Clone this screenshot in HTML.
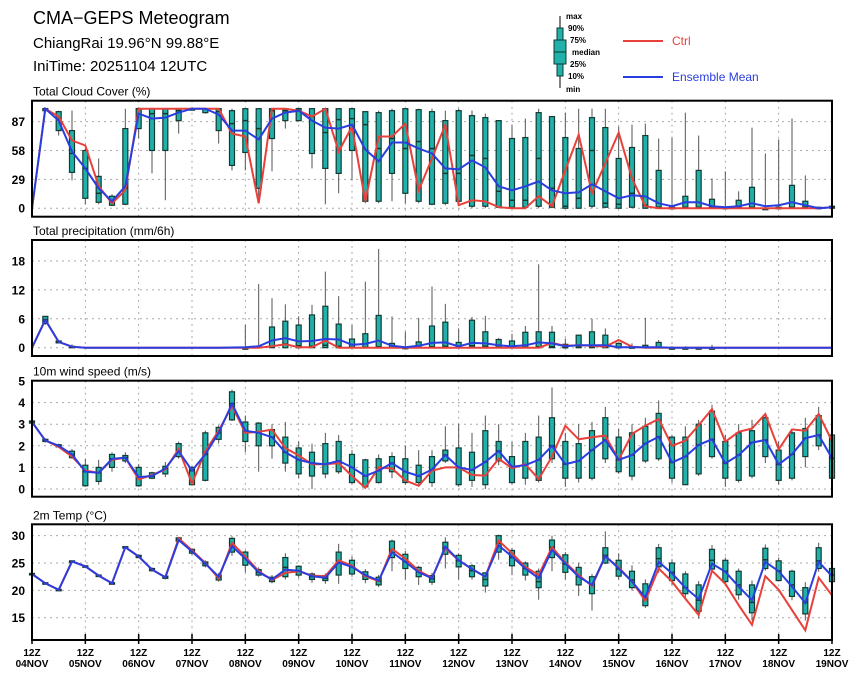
<!DOCTYPE html>
<html><head><meta charset="utf-8">
<style>
html,body{margin:0;padding:0;background:#fff;}
svg{display:block;font-family:"Liberation Sans",sans-serif;}
</style></head>
<body>
<svg id="chart" width="860" height="678" viewBox="0 0 860 678" xmlns="http://www.w3.org/2000/svg">
<text x="33" y="24" font-size="18" fill="#000">CMA−GEPS Meteogram</text>
<text x="33" y="48" font-size="15" fill="#000">ChiangRai 19.96°N 99.88°E</text>
<text x="33" y="71" font-size="15" fill="#000">IniTime: 20251104 12UTC</text>
<g>
  <line x1="560" y1="16" x2="560" y2="88" stroke="#000" stroke-width="1"/>
  <rect x="557" y="28" width="6" height="48" fill="#20b2aa" stroke="#103830"/>
  <rect x="554" y="40" width="12" height="24" fill="#20b2aa" stroke="#103830"/>
  <line x1="554" y1="52" x2="566" y2="52" stroke="#103830"/>
  <text x="566" y="19" font-size="8" font-weight="bold">max</text>
  <text x="568" y="31" font-size="8" font-weight="bold">90%</text>
  <text x="570" y="43" font-size="8" font-weight="bold">75%</text>
  <text x="572" y="55" font-size="8" font-weight="bold">median</text>
  <text x="570" y="67" font-size="8" font-weight="bold">25%</text>
  <text x="568" y="79" font-size="8" font-weight="bold">10%</text>
  <text x="566" y="92" font-size="8" font-weight="bold">min</text>
  <line x1="623" y1="41" x2="663" y2="41" stroke="#e8403a" stroke-width="2"/>
  <text x="672" y="45" font-size="12" fill="#e8403a">Ctrl</text>
  <line x1="623" y1="77" x2="663" y2="77" stroke="#2a3ee0" stroke-width="2"/>
  <text x="672" y="81" font-size="12" fill="#2a3ee0">Ensemble Mean</text>
</g>
<g id="plots"></g>
</svg>
<script>
const times = ["04NOV","05NOV","06NOV","07NOV","08NOV","09NOV","10NOV","11NOV","12NOV","13NOV","14NOV","15NOV","16NOV","17NOV","18NOV","19NOV"];

const cloudMean = [0,100,88,57,40,20,7,22,95,90,91,96,100,100,94,78,78,69,90,96,98,88,81,80,84,59,47,66,66,60,55,40,39,48,41,22,18,22,27,18,15,16,24,17,10,13,12,5,2,6,6,2,1,2,5,2,3,6,3,0,1];
const cloudCtrl = [0,100,92,68,63,22,5,18,100,100,100,100,100,100,100,75,72,5,100,100,98,92,100,57,82,7,72,72,85,18,50,84,3,8,7,1,0,0,12,2,38,74,15,45,76,30,2,0,0,0,0,0,0,0,0,0,0,0,0,0,1];
const cloudMin = [0,98,73,28,4,4,2,3,70,35,8,75,99,95,65,38,38,7,37,80,87,40,4,15,28,5,5,7,5,5,3,3,5,0,0,0,0,0,0,0,0,0,0,0,0,0,0,0,0,0,0,0,0,0,0,0,0,0,0,0,0];
const cloudP10 = [0,98,78,36,10,6,3,4,80,58,58,88,99,96,78,43,56,20,70,88,88,55,40,35,58,7,7,35,15,7,4,5,7,2,2,1,1,1,2,1,0,0,2,1,0,1,0,0,0,0,0,0,0,0,0,0,0,0,0,0,0];
const cloudMed = [0,100,90,55,40,15,7,20,100,95,95,98,100,100,97,85,88,80,98,98,100,92,76,89,90,84,60,70,60,67,60,35,35,53,50,17,8,8,50,20,2,10,58,5,4,15,3,1,0,1,1,1,0,1,1,0,0,1,1,0,1];
const cloudP90 = [0,100,97,78,58,32,12,80,100,100,100,100,100,100,100,98,100,100,100,100,100,100,100,100,100,97,96,98,100,99,97,88,98,93,91,88,70,71,96,92,71,60,91,81,50,61,73,38,1,12,38,9,1,8,21,0,1,23,7,1,2];
const cloudMax = [0,100,98,98,60,50,14,100,100,100,100,100,100,100,100,100,100,100,100,100,100,100,100,100,100,97,98,100,100,100,100,98,100,98,95,88,84,90,100,92,96,100,100,100,82,84,85,70,71,96,73,30,37,17,81,55,69,90,33,1,3];

const precMean = [0,5.8,1.2,0.2,0,0,0,0,0,0,0,0,0,0,0,0.05,0.1,0.3,1.5,2,1.3,1.4,1.8,1.7,0.6,0.8,1.5,0.4,0.1,0.4,1.0,1.1,0.3,1.0,0.9,0.5,0.3,0.5,1.1,0.9,0.3,0.5,0.5,0.5,0.1,0.1,0.1,0.1,0,0,0,0,0,0,0,0,0,0,0,0,0];
const precCtrl = [0,5.8,1.2,0.2,0,0,0,0,0,0,0,0,0,0,0,0,0,0,0.3,0.7,0.1,0.1,1.5,0,0,0,0,0,0,0,0,0,0,0,0,0,0,0,0,1.0,0.4,0.5,0.4,0.2,1.6,0.2,0,0,0,0,0,0,0,0,0,0,0,0,0,0,0];
const precMin = [0,4.8,0.9,0,0,0,0,0,0,0,0,0,0,0,0,0,0,0,0,0,0,0,0,0,0,0,0,0,0,0,0,0,0,0,0,0,0,0,0,0,0,0,0,0,0,0,0,0,0,0,0,0,0,0,0,0,0,0,0,0,0];
const precP10 = [0,5.0,1.0,0,0,0,0,0,0,0,0,0,0,0,0,0,0,0,0,0,0,0,0,0,0,0,0,0,0,0,0,0,0,0,0,0,0,0,0,0,0,0,0,0,0,0,0,0,0,0,0,0,0,0,0,0,0,0,0,0,0];
const precMed = [0,5.8,1.2,0.1,0,0,0,0,0,0,0,0,0,0,0,0,0,0,0.3,0.8,0.4,0.3,0.5,0.3,0.1,0.1,0.2,0,0,0,0.2,0.3,0,0.4,0.3,0.1,0,0.1,0.2,0.2,0,0.1,0.1,0.1,0,0,0,0,0,0,0,0,0,0,0,0,0,0,0,0,0];
const precP90 = [0,6.5,1.4,0.3,0,0,0,0,0,0,0,0,0,0,0,0,0,0.3,4.3,5.5,4.7,6.8,8.6,4.9,1.8,2.9,6.7,0.9,0.1,1.2,4.5,5.3,1.1,5.7,3.3,1.7,1.4,3.2,3.3,3.2,0.7,2.6,3.3,2.6,0.9,0.2,0.5,1.1,0,0,0,0,0,0,0,0,0,0,0,0,0];
const precMax = [0,6.5,1.5,0.7,0,0,0,0,0,0,0,0,0,0,0,0,4.7,13.2,10.3,9,6.5,8.9,15.8,10.7,4.8,13.7,20.5,6.5,3.3,6.2,12.7,9.1,4,6.4,6.6,2,2.9,4.5,17.3,4.5,1.9,2.6,6,4,0.9,0.9,6.2,1.6,0.3,0.3,0.2,0.6,0,0,0,0,0,0,0,0,0];

const windMean = [3.1,2.25,2.0,1.6,0.8,0.75,1.4,1.45,0.55,0.6,0.95,1.75,0.85,1.6,2.6,3.95,2.7,2.6,2.4,1.7,1.35,1.2,1.15,1.3,1.0,0.6,0.85,1.2,0.8,0.6,0.9,1.57,1.0,0.88,1.25,1.76,1.03,1.1,1.35,2.0,1.15,1.3,1.8,2.27,1.35,1.57,2.1,2.42,1.23,1.5,2.04,2.3,1.19,1.57,2.15,2.27,1.14,1.6,2.35,2.5,1.42];
const windCtrl = [3.1,2.25,1.95,1.5,0.85,0.75,1.35,1.45,0.45,0.65,0.9,1.85,0.25,1.75,2.7,3.85,2.6,2.65,2.75,1.9,1.55,1.15,1.15,1.2,0.6,0.05,1.0,0.95,0.4,0.15,0.85,1.0,1.0,0.65,0.62,1.4,0.96,1.15,0.46,1.5,2.93,2.3,2.4,2.47,1.35,2.55,2.93,3.24,2.0,2.24,2.96,3.7,2.19,2.65,2.8,3.47,1.84,2.76,2.7,3.47,2.22];
const windMin = [3.0,2.15,1.9,1.4,0.1,0.2,0.8,1.2,0.1,0.45,0.55,1.4,0.15,0.35,2.1,3.15,1.7,0.8,1.4,0.8,0.5,0,0.5,0.7,0.2,0.05,0.25,0.5,0.2,0.2,0.1,1.2,0.1,0.1,0,1.1,0.2,0.2,0.3,1.2,0.1,0.3,0.4,1.2,0.7,0.4,1.2,1.3,0.3,0.2,0.6,1.4,0.1,0.3,0.5,1.2,0.2,0.4,1.0,1.8,0.5];
const windP10 = [3.05,2.2,1.95,1.45,0.15,0.35,1.0,1.3,0.15,0.5,0.7,1.5,0.2,0.4,2.3,3.2,2.2,2.0,2.0,1.2,0.7,0.6,0.7,0.8,0.3,0.1,0.3,0.8,0.3,0.3,0.3,1.3,0.2,0.4,0.2,1.3,0.3,0.5,0.4,1.4,0.5,0.5,0.5,1.4,0.8,0.6,1.3,1.4,0.5,0.2,0.7,1.5,0.5,0.4,0.6,1.5,0.4,0.5,1.5,2.0,0.5];
const windMed = [3.1,2.25,2.0,1.6,0.8,0.75,1.4,1.45,0.55,0.6,0.95,1.75,0.85,1.6,2.6,3.95,2.7,2.6,2.4,1.7,1.35,1.2,1.15,1.3,1.0,0.6,0.85,1.2,0.8,0.6,0.9,1.57,1.0,0.88,1.25,1.76,1.03,1.1,1.35,2.0,1.15,1.3,1.8,2.27,1.35,1.57,2.1,2.42,1.23,1.5,2.04,2.3,1.19,1.57,2.15,2.27,1.14,1.6,2.35,2.5,1.42];
const windP90 = [3.15,2.3,2.05,1.75,1.1,1.0,1.6,1.55,1.0,0.75,1.05,2.1,1.0,2.6,2.85,4.5,3.1,3.05,2.75,2.4,1.9,1.7,2.1,2.2,1.6,1.35,1.4,1.5,1.4,1.1,1.5,1.8,1.9,1.7,2.7,2.2,1.5,2.2,2.4,3.3,2.2,2.1,2.7,3.3,2.4,2.6,2.9,3.5,2.4,2.4,3.0,3.6,2.2,2.6,2.7,3.3,1.8,2.6,2.8,3.4,2.5];
const windMax = [3.2,2.35,2.1,1.85,1.4,1.35,1.7,1.7,1.15,0.8,1.25,2.2,1.05,2.7,2.95,4.6,3.4,3.1,3.0,3.1,2.2,2.1,2.6,2.5,1.8,1.4,1.6,1.7,2.0,1.8,1.8,2.9,3.0,2.6,3.4,3.0,2.2,2.6,3.4,4.7,2.6,3.0,3.1,3.8,2.8,3.0,3.3,4.1,2.5,2.9,3.2,3.9,2.5,3.0,3.2,3.5,2.2,2.7,3.3,3.8,2.6];

const tempMean = [23.0,21.3,20.1,25.3,24.4,22.7,21.3,27.9,26.2,23.8,22.4,29.2,27.1,24.9,22.5,28.1,25.8,23.3,22.0,23.8,23.6,22.6,22.3,25.1,24.3,22.8,21.8,27.0,25.2,23.3,22.2,28.0,25.5,23.9,22.5,28.2,26.2,24.0,22.2,27.4,24.9,22.5,21.0,26.3,24.0,21.6,18.7,25.2,23.1,20.5,18.4,24.9,23.4,20.7,18.2,25.2,23.5,20.7,17.7,25.2,22.6];
const tempCtrl = [23.0,21.3,20.1,25.3,24.4,22.7,21.3,27.9,26.2,23.8,22.4,29.5,27.3,25.0,22.2,28.7,26.2,23.5,21.9,23.2,23.5,22.7,22.6,25.5,24.5,22.6,21.7,27.6,25.8,23.6,22.3,27.7,25.5,23.9,22.5,29.1,26.8,24.3,22.8,27.9,25.1,22.8,20.8,26.2,24.2,21.6,18.1,24.0,21.6,18.5,15.5,23.6,21.2,17.3,13.7,22.6,20.1,16.4,12.7,22.3,19.1];
const tempMin = [22.8,21.1,19.9,25.1,24.2,22.5,21.1,27.7,25.9,23.4,22.0,28.8,26.5,24.2,21.6,26.3,23.3,22.5,21.3,22.0,22.3,21.4,21.2,21.2,22.5,21.3,20.6,23.5,22.0,21.0,21.0,24.0,22.0,22.0,19.6,25.6,22.8,21.8,18.3,23.5,22.0,19.0,16.3,24.8,22.0,20.0,16.8,23.2,21.0,18.4,14.8,23.5,21.0,18.3,14.5,23.6,21.6,18.2,14.5,23.4,21.3];
const tempP10 = [22.9,21.2,20.0,25.2,24.3,22.6,21.2,27.8,26.0,23.6,22.2,29.0,26.8,24.5,21.9,27.0,24.6,22.8,21.6,22.5,22.8,22.0,21.8,22.8,23.0,22.0,21.0,26.0,24.0,22.5,21.5,26.6,24.3,22.5,20.8,27.0,24.5,22.8,20.5,26.0,23.3,21.0,19.4,25.0,22.6,20.5,17.2,24.3,21.8,19.4,16.2,23.9,21.6,19.2,15.9,24.0,21.8,18.9,15.7,24.0,21.6];
const tempMed = [23.0,21.3,20.1,25.3,24.4,22.7,21.3,27.9,26.2,23.8,22.4,29.3,27.2,24.9,22.4,28.3,25.9,23.3,22.0,24.2,23.6,22.5,22.2,25.3,24.3,22.7,21.7,27.4,25.3,23.4,22.1,27.8,25.4,23.6,22.0,28.6,26.0,24.0,21.6,27.9,24.8,22.5,21.0,26.4,23.9,21.9,18.8,25.8,23.3,20.5,18.2,25.5,23.5,21.0,17.8,25.6,23.6,21.0,17.8,25.4,22.8];
const tempP90 = [23.1,21.4,20.2,25.4,24.5,22.8,21.4,28.0,26.4,24.0,22.6,29.6,27.5,25.2,22.8,29.5,27.0,23.8,22.4,26.0,24.4,23.0,22.7,27.0,25.5,23.4,22.4,29.0,26.6,24.2,22.7,28.8,26.4,24.5,23.2,30.0,27.3,25.0,23.5,29.2,26.5,24.2,22.5,27.8,25.5,23.5,21.2,27.8,25.0,23.0,21.0,27.5,25.5,23.5,21.0,27.7,25.4,23.5,20.5,27.8,24.0];
const tempMax = [23.2,21.5,20.3,25.5,24.6,22.9,21.5,28.1,26.6,24.2,22.8,29.8,27.7,25.5,23.2,29.9,27.3,24.2,22.8,26.8,24.6,23.3,23.1,28.5,26.2,23.9,22.8,29.3,27.2,24.5,23.2,29.7,26.8,24.8,23.3,30.2,27.8,25.3,24.0,30.0,27.0,25.0,23.0,30.8,26.8,24.6,22.0,28.5,25.7,23.5,21.7,28.3,26.0,24.0,21.8,28.4,26.0,23.8,21.5,28.7,24.5];

const cloudTicks = [0,29,58,87];
const precTicks = [0,6,12,18];
const windTicks = [0,1,2,3,4,5];
const tempTicks = [15,20,25,30];

const NS = "http://www.w3.org/2000/svg";
const plots = document.getElementById("plots");
const X0 = 32, X1 = 832, NSTEP = 60;
function xScale(i){ return X0 + (X1 - X0) * i / NSTEP; }
function mk(tag, attrs, parent){
  const e = document.createElementNS(NS, tag);
  for (const k in attrs) e.setAttribute(k, attrs[k]);
  (parent || plots).appendChild(e);
  return e;
}
function panel(cfg){
  const g = mk("g", {});
  
  
  const ys = v => cfg.bottom - (v - cfg.dmin) * (cfg.bottom - cfg.top) / (cfg.dmax - cfg.dmin);
  const t = mk("text", {x: 33, y: cfg.top - 5, "font-size": 12}, g);
  t.textContent = cfg.title;
  
  
  for (let d = 1; d < 15; d++) {
    const gl = mk("line", {x1: xScale(d*4), x2: xScale(d*4), y1: cfg.top, y2: cfg.bottom, stroke: "#aaa", "stroke-width": 1, "stroke-dasharray": "2,4"}, g);
    
    
  }
  cfg.ticks.forEach(v => {
    const y = ys(v);
    const hl = mk("line", {x1: X0, x2: X1, y1: y, y2: y, stroke: "#aaa", "stroke-width": 1, "stroke-dasharray": "2,4"}, g);
    
    
    const lb = mk("text", {x: X0 - 7, y: y + 4.5, "font-size": 12, "text-anchor": "end", "font-weight": "bold"}, g);
    lb.textContent = v;
    
    
  });
  for (let i = 0; i <= NSTEP; i++) {
    if (cfg.mx[i] - cfg.mn[i] < 0.0001 && cfg.skipFlat) continue;
    const x = xScale(i);
    const bg = mk("g", {}, g);
    
    
    mk("line", {x1: x, x2: x, y1: ys(cfg.mx[i]), y2: ys(cfg.mn[i]), stroke: "#555", "stroke-width": 1}, bg);
    const yt = ys(cfg.p90[i]), yb = ys(cfg.p10[i]);
    mk("rect", {x: x - 2.5, y: yt, width: 5, height: Math.max(1.5, yb - yt), fill: "#20b2aa", stroke: "#123a32", "stroke-width": 1.2}, bg);
    const ym = ys(cfg.med[i]);
    mk("line", {x1: x - 2.5, x2: x + 2.5, y1: ym, y2: ym, stroke: "#123a32", "stroke-width": 1.5}, bg);
  }
  const ptsC = cfg.ctrl.map((v,i) => xScale(i).toFixed(1) + "," + ys(v).toFixed(1)).join(" ");
  const lc = mk("polyline", {points: ptsC, fill: "none", stroke: "#e8403a", "stroke-width": 2}, g);
  
  
  const ptsM = cfg.mean.map((v,i) => xScale(i).toFixed(1) + "," + ys(v).toFixed(1)).join(" ");
  const lm = mk("polyline", {points: ptsM, fill: "none", stroke: "#2a3ee0", "stroke-width": 2}, g);
  
  
  const fr = mk("rect", {x: X0, y: cfg.top, width: X1 - X0, height: cfg.bottom - cfg.top, fill: "none", stroke: "#000", "stroke-width": 2}, g);
  
  
}
panel({name:"cloud-cover-panel", title:"Total Cloud Cover (%)", top:100.7, bottom:216.7, dmin:-8.5, dmax:108, ticks:cloudTicks, skipFlat:true,
  mean:cloudMean, ctrl:cloudCtrl, mn:cloudMin, p10:cloudP10, med:cloudMed, p90:cloudP90, mx:cloudMax});
panel({name:"precipitation-panel", title:"Total precipitation (mm/6h)", top:240, bottom:356, dmin:-1.72, dmax:22.35, ticks:precTicks, skipFlat:true,
  mean:precMean, ctrl:precCtrl, mn:precMin, p10:precP10, med:precMed, p90:precP90, mx:precMax});
panel({name:"wind-speed-panel", title:"10m wind speed (m/s)", top:380.7, bottom:496.7, dmin:-0.357, dmax:5.014, ticks:windTicks, skipFlat:false,
  mean:windMean, ctrl:windCtrl, mn:windMin, p10:windP10, med:windMed, p90:windP90, mx:windMax});
panel({name:"temperature-panel", title:"2m Temp (°C)", top:524.3, bottom:640, dmin:10.93, dmax:32.08, ticks:tempTicks, skipFlat:false,
  mean:tempMean, ctrl:tempCtrl, mn:tempMin, p10:tempP10, med:tempMed, p90:tempP90, mx:tempMax});

times.forEach((d, k) => {
  const x = xScale(k*4);
  const tk = mk("line", {x1: x, x2: x, y1: 634, y2: 644, stroke: "#000", "stroke-width": 1.5});
  
  
  const t1 = mk("text", {x: x, y: 656, "font-size": 10, "text-anchor": "middle", "font-weight": "bold"});
  t1.textContent = "12Z";
  
  
  const t2 = mk("text", {x: x, y: 667, "font-size": 10, "text-anchor": "middle", "font-weight": "bold"});
  t2.textContent = d;
  
  
});
</script>
</body></html>
